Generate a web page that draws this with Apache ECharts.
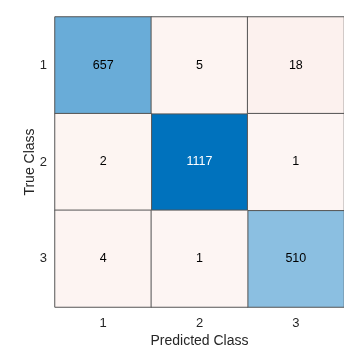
<!DOCTYPE html>
<html>
<head>
<meta charset="utf-8">
<script src="https://cdn.jsdelivr.net/npm/echarts@6/dist/echarts.min.js"></script>
<style>
html, body { margin: 0; padding: 0; background: #fff; }
#main { width: 344px; height: 350px; }
</style>
</head>
<body>
<div id="main"></div>
<script>
var classes = ['1', '2', '3'];
// rows = true class, cols = predicted class
var counts = [
    [657, 5, 18],
    [2, 1117, 1],
    [4, 1, 510]
];

var diagData = [];
var offData = [];
for (var r = 0; r < counts.length; r++) {
    for (var c = 0; c < counts[r].length; c++) {
        if (r === c) diagData.push([c, r, counts[r][c]]);
        else offData.push([c, r, counts[r][c]]);
    }
}

var chart = echarts.init(document.getElementById('main'));
var font = 'Liberation Sans, Arial, sans-serif';

chart.setOption({
    animation: false,
    grid: { left: 55, top: 17, right: 0, bottom: 43, containLabel: false, outerBoundsMode: 'none' },
    xAxis: {
        type: 'category',
        data: classes,
        name: 'Predicted Class',
        nameLocation: 'middle',
        nameGap: 27,
        nameMoveOverlap: false,
        nameTextStyle: { fontFamily: font, fontSize: 14, color: '#262626' },
        axisLine: { show: false },
        axisTick: { show: false },
        axisLabel: { fontFamily: font, fontSize: 13, color: '#262626', margin: 10 },
        splitLine: { show: false }
    },
    yAxis: {
        type: 'category',
        data: classes,
        inverse: true,
        name: 'True Class',
        nameLocation: 'middle',
        nameGap: 18,
        nameMoveOverlap: false,
        nameTextStyle: { fontFamily: font, fontSize: 14, color: '#262626' },
        axisLine: { show: false },
        axisTick: { show: false },
        axisLabel: { fontFamily: font, fontSize: 13, color: '#262626', margin: 8 },
        splitLine: { show: false }
    },
    visualMap: [
        {
            show: false, seriesIndex: 0, dimension: 2,
            min: 0, max: 1117,
            inRange: { color: ['#ffffff', '#0072bd'] }
        },
        {
            show: false, seriesIndex: 1, dimension: 2,
            min: 0, max: 18,
            inRange: { color: ['#fdf5f3', '#fcf1ee'] }
        }
    ],
    series: [
        {
            type: 'heatmap',
            data: diagData.map(function (d) {
                // white text on the darkest cell
                return d[2] > 900 ? { value: d, label: { color: '#fff' } } : d;
            }),
            itemStyle: { borderColor: '#555', borderWidth: 1 },
            label: {
                show: true, fontFamily: font, fontSize: 12.5,
                color: '#000',
                formatter: function (p) { return p.value[2]; }
            },
            emphasis: { disabled: true }
        },
        {
            type: 'heatmap',
            data: offData,
            itemStyle: { borderColor: '#555', borderWidth: 1 },
            label: {
                show: true, fontFamily: font, fontSize: 12.5, color: '#000',
                formatter: function (p) { return p.value[2]; }
            },
            emphasis: { disabled: true }
        }
    ]
});
</script>
</body>
</html>
